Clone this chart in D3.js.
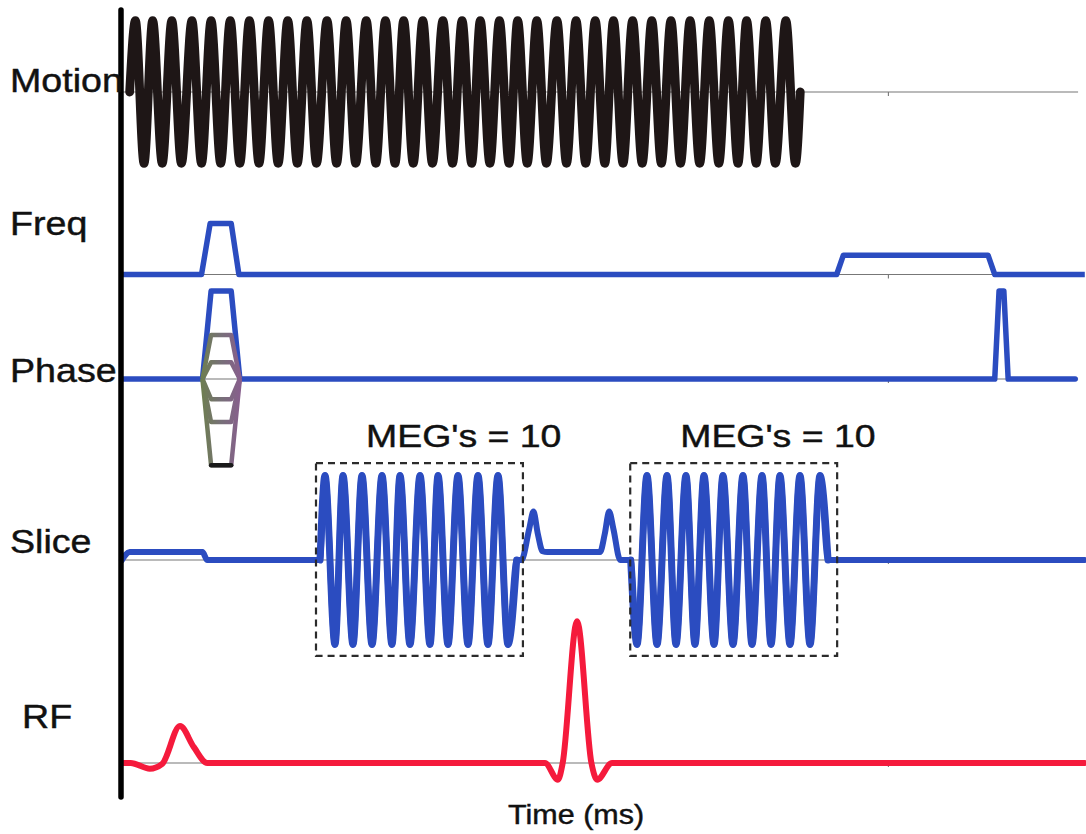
<!DOCTYPE html>
<html>
<head>
<meta charset="utf-8">
<script src="https://cdn.jsdelivr.net/npm/d3@7"></script>
<style>
  html, body { margin: 0; padding: 0; background: #fff; }
  svg { display: block; }
  text { font-family: "Liberation Sans", Arial, Helvetica, sans-serif; fill: #111; stroke: #111; stroke-width: 0.45; }
</style>
</head>
<body>
<svg id="chart" width="1086" height="834"></svg>
<script>
// ---- Sequence data (time in ms, gradient amplitude in normalised units) ----
const channels = ["Motion", "Freq", "Phase", "Slice", "RF"];

// Mechanical motion drive
const motionStart = 0.8, motionEnd = 70.8, motionAmp = 0.81;
const motionCrests = [1.4, 3.2, 5.2, 7.3, 9.3, 11.3, 13.3, 15.3, 17.3, 19.3, 21.4, 23.4,
  25.5, 27.5, 29.4, 31.4, 33.5, 35.5, 37.4, 39.4, 41.3, 43.3, 45.4, 47.4, 49.4, 51.3,
  53.3, 55.3, 57.3, 59.3, 61.3, 63.3, 65.2, 67.2, 69.3];
const motionTroughs = [2.3, 4.2, 6.2, 8.3, 10.3, 12.3, 14.3, 16.3, 18.3, 20.3, 22.4, 24.4,
  26.5, 28.5, 30.4, 32.4, 34.5, 36.5, 38.4, 40.4, 42.3, 44.3, 46.4, 48.4, 50.4, 52.3,
  54.3, 56.3, 58.3, 60.3, 62.3, 64.3, 66.2, 68.2, 70.3];

// Frequency-encode gradient: [time, amplitude]
const freqWave = [[0, 0], [8.3, 0], [9.2, 0.58], [11.4, 0.58], [12.2, 0], [74.6, 0],
  [75.3, 0.22], [90.4, 0.22], [91.1, 0], [100.5, 0]];

// Phase-encode gradient and its table of steps (shared corner times)
const phaseWave = [[0, 0], [8.4, 0], [9.3, 1.0], [11.4, 1.0], [12.3, 0], [91.1, 0],
  [91.55, 1.0], [92.05, 1.0], [92.5, 0], [99.5, 0]];
const phaseCorners = [8.4, 9.3, 11.4, 12.3];
const phaseSteps = [0.5, 0.19, -0.23, -0.49, -0.98];

// Slice-select gradient with two motion-encoding gradient (MEG) trains
const sliceLead = [[0, 0], [0.8, 0.09], [8.4, 0.09], [8.9, 0], [20.67, 0]];
const meg1Crests = [21.19, 23.07, 25.05, 27.14, 29.02, 31.11, 32.99, 35.07, 37.16, 39.25];
const meg1Troughs = [22.23, 24.11, 26.10, 28.18, 30.06, 32.15, 34.03, 36.12, 38.20, 40.29];
const sliceMid = [[41.2, 0], [41.7, 0], [42.5, 0.35], [42.95, 0.55], [43.4, 0.3], [43.9, 0.1],
  [44.4, 0.09], [49.9, 0.09], [50.4, 0.3], [50.85, 0.55], [51.3, 0.35], [52.0, 0], [53.1, 0]];
const meg2Troughs = [53.76, 55.85, 57.83, 59.81, 61.80, 63.78, 65.76, 67.75, 69.73, 71.82];
const meg2Crests = [54.80, 56.89, 58.87, 60.75, 62.73, 64.82, 66.81, 68.68, 70.77, 72.86];
const sliceTail = [[73.7, 0], [100.5, 0]];
const megAmp = 0.96;
const megBoxes = [[20.25, 41.85], [53.05, 74.65]];

// RF pulses
const rfWave = [[0, 0], [0.9, 0], [2.9, -0.065], [4.2, -0.01], [6.05, 0.42], [7.5, 0.18],
  [8.9, 0], [44.15, 0], [45.5, -0.19], [46.0, 0], [47.5, 1.61], [49.0, 0], [49.6, -0.19],
  [51.15, 0], [100.5, 0]];

const axisTicks = [80];
const axisTitle = "Time (ms)";

// ---- Layout ----
const svg = d3.select("#chart");
const x = d3.scaleLinear().domain([0, 100]).range([122, 1080]);
const amp = d3.scaleLinear().domain([-1, 1]).range([88, -88]);
const rowY = d3.scaleOrdinal(channels, [92, 274.5, 379, 560, 763]);
const labelPos = d3.scaleOrdinal(channels, [[10, 92], [10, 235], [10, 382], [10, 553], [22, 728]]);

const BLUE = "#2b4cc0", RED = "#f51a3c", INK = "#1e1616";

const line = (curve) => d3.line().x(d => x(d[0])).y(d => amp(d[1])).curve(curve);

// Alternate crest / trough extremes into a single vertex list
function extremes(crests, troughs, a) {
  return crests.map(t => [t, a]).concat(troughs.map(t => [t, -a])).sort((p, q) => p[0] - q[0]);
}

const rows = svg.append("g");
const row = {};
channels.forEach(c => { row[c] = rows.append("g").attr("transform", `translate(0,${rowY(c)})`); });

// thin time baselines with a tick
channels.forEach(c => {
  row[c].append("line")
    .attr("x1", x(0)).attr("x2", x(99.8)).attr("y1", amp(0)).attr("y2", amp(0))
    .attr("stroke", "#777").attr("stroke-width", 1.1);
  row[c].selectAll("line.tick").data(axisTicks).join("line").attr("class", "tick")
    .attr("x1", d => x(d)).attr("x2", d => x(d))
    .attr("y1", amp(0)).attr("y2", amp(0) + 4)
    .attr("stroke", "#777").attr("stroke-width", 1.1);
});

// Motion
const motionPts = [[motionStart, 0]].concat(extremes(motionCrests, motionTroughs, motionAmp), [[motionEnd, 0]]);
row.Motion.append("path").attr("d", line(d3.curveMonotoneX)(motionPts))
  .attr("fill", "none").attr("stroke", INK).attr("stroke-width", 8.8)
  .attr("stroke-linejoin", "round").attr("stroke-linecap", "round");

// Frequency encode
row.Freq.append("path").attr("d", line(d3.curveLinear)(freqWave))
  .attr("fill", "none").attr("stroke", BLUE).attr("stroke-width", 5.5)
  .attr("stroke-linejoin", "round");

// Phase encode
row.Phase.append("path").attr("d", line(d3.curveLinear)(phaseWave))
  .attr("fill", "none").attr("stroke", BLUE).attr("stroke-width", 5.5)
  .attr("stroke-linejoin", "round").attr("stroke-linecap", "round");

const defs = svg.append("defs");
const grad = defs.append("linearGradient").attr("id", "stepInk")
  .attr("gradientUnits", "userSpaceOnUse")
  .attr("x1", x(phaseCorners[0])).attr("x2", x(phaseCorners[3]))
  .attr("y1", 0).attr("y2", 0);
grad.append("stop").attr("offset", 0).attr("stop-color", "#6e7d52");
grad.append("stop").attr("offset", 0.5).attr("stop-color", "#777078");
grad.append("stop").attr("offset", 1).attr("stop-color", "#875f8c");

row.Phase.selectAll("path.step").data(phaseSteps).join("path").attr("class", "step")
  .attr("d", a => line(d3.curveLinear)([[phaseCorners[0], 0], [phaseCorners[1], a], [phaseCorners[2], a], [phaseCorners[3], 0]]))
  .attr("fill", "none").attr("stroke", "url(#stepInk)").attr("stroke-width", 4.5)
  .attr("stroke-linejoin", "round");
// darkest edge on the most negative step
const minStep = d3.min(phaseSteps);
row.Phase.append("line")
  .attr("x1", x(phaseCorners[1])).attr("x2", x(phaseCorners[2]))
  .attr("y1", amp(minStep)).attr("y2", amp(minStep))
  .attr("stroke", "#1a1a1a").attr("stroke-width", 4.5).attr("stroke-linecap", "round");

// Slice select with MEG trains
const meg1 = extremes(meg1Crests, meg1Troughs, megAmp);
const meg2 = extremes(meg2Crests, meg2Troughs, megAmp);
const slicePts = sliceLead.concat(meg1, sliceMid, meg2, sliceTail);
row.Slice.append("path").attr("d", line(d3.curveMonotoneX)(slicePts))
  .attr("fill", "none").attr("stroke", BLUE).attr("stroke-width", 6)
  .attr("stroke-linejoin", "round").attr("stroke-linecap", "round");
// MEG lobes are drawn a little heavier
[[sliceLead[sliceLead.length - 1]].concat(meg1, [sliceMid[0]]),
 [sliceMid[sliceMid.length - 1]].concat(meg2, [sliceTail[0]])].forEach(seg => {
  row.Slice.append("path").attr("d", line(d3.curveMonotoneX)(seg))
    .attr("fill", "none").attr("stroke", BLUE).attr("stroke-width", 7)
    .attr("stroke-linejoin", "round").attr("stroke-linecap", "round");
});

row.Slice.selectAll("rect.meg").data(megBoxes).join("rect").attr("class", "meg")
  .attr("x", d => x(d[0])).attr("width", d => x(d[1]) - x(d[0]))
  .attr("y", amp(1.1)).attr("height", amp(-1.09) - amp(1.1))
  .attr("fill", "none").attr("stroke", "#2b2b2b").attr("stroke-width", 2.2)
  .attr("stroke-dasharray", "7 5");

const megCounts = [meg1Crests.length, meg2Crests.length];
row.Slice.selectAll("text.meg").data(megBoxes).join("text").attr("class", "meg")
  .attr("transform", d => `translate(${x(d[0]) + 50},${amp(1.28)}) scale(1.17,1)`)
  .attr("font-size", 32)
  .text((d, i) => `MEG's = ${megCounts[i]}`);

// RF
row.RF.append("path").attr("d", line(d3.curveMonotoneX)(rfWave))
  .attr("fill", "none").attr("stroke", RED).attr("stroke-width", 6)
  .attr("stroke-linejoin", "round").attr("stroke-linecap", "round");

// Vertical axis
svg.append("line")
  .attr("x1", x(0) - 1).attr("x2", x(0) - 1).attr("y1", 10).attr("y2", 797)
  .attr("stroke", "#000").attr("stroke-width", 5.5).attr("stroke-linecap", "round");

// Channel labels
svg.selectAll("text.channel").data(channels).join("text").attr("class", "channel")
  .attr("transform", c => `translate(${labelPos(c)[0]},${labelPos(c)[1]}) scale(1.14,1)`)
  .attr("font-size", 33)
  .text(c => c);

// Time axis title
svg.append("text")
  .attr("transform", `translate(${x(47.4)},824) scale(1.13,1)`)
  .attr("text-anchor", "middle").attr("font-size", 27)
  .text(axisTitle);
</script>
</body>
</html>
